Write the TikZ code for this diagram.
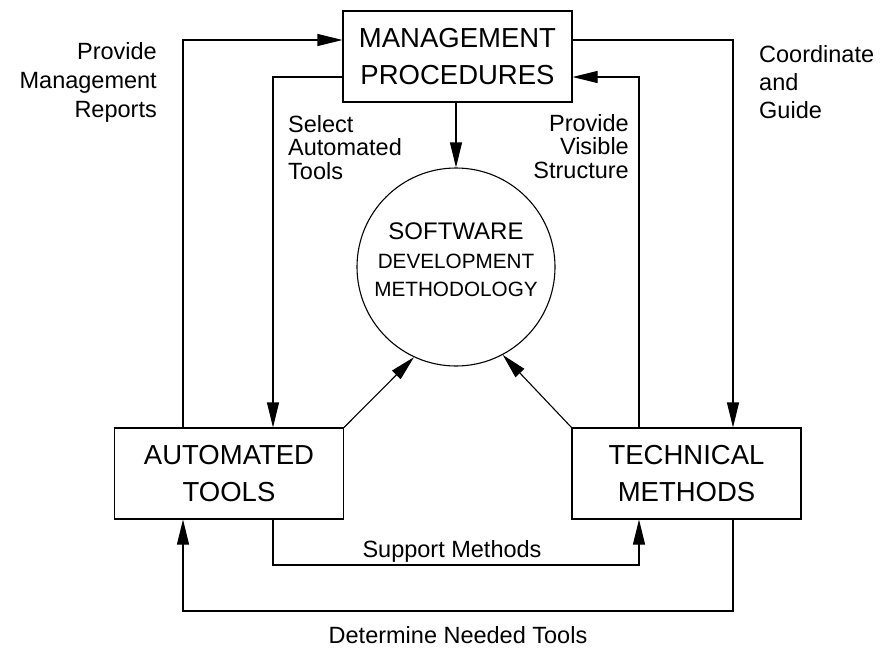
\documentclass[tikz,border=0pt]{standalone}
\usepackage{fontspec}
\setmainfont{Liberation Sans}
\usetikzlibrary{arrows.meta}
\begin{document}
\begin{tikzpicture}[x=1pt,y=-1pt,
  box/.style={draw, line width=1.1pt, minimum width=229pt, minimum height=91pt, align=center, font=\fontsize{27.5}{37}\selectfont, inner sep=0pt},
  conn/.style={line width=1.1pt},
  arr/.style={conn, -{Triangle[length=25pt,width=12pt]}},
  lbl/.style={inner sep=0pt, font=\fontsize{23.5}{29}\selectfont},
]
\useasboundingbox (0,0) rectangle (880,650);

\node[box] (mgmt) at (457.5,56.5) {MANAGEMENT\\PROCEDURES};
\node[box] (auto) at (229,473.5) {AUTOMATED\\TOOLS};
\node[box] (tech) at (686.5,473.5) {TECHNICAL\\METHODS};
\node[draw, circle, line width=1.1pt, minimum size=198pt, inner sep=0pt] (circ) at (456,267) {};
\node[inner sep=0pt, anchor=north, align=center, font=\fontsize{20.7}{28.5}\selectfont] (circtxt) at (456,223)
  {{\fontsize{24}{28.5}\selectfont SOFTWARE}\\DEVELOPMENT\\METHODOLOGY};

\coordinate (pL) at (183,40);
\coordinate (sL) at (273,77);
\coordinate (cR) at (733,40);
\coordinate (vR) at (639,77);
\coordinate (smL) at (273,565);
\coordinate (smR) at (639,565);
\coordinate (dnR) at (733,611);
\coordinate (dnL) at (183,611);

% Provide Management Reports
\draw[arr] (auto.north -| pL) |- (mgmt.west |- pL);
% Select Automated Tools
\draw[arr] (mgmt.west |- sL) -| (auto.north -| sL);
% Coordinate and Guide
\draw[arr] (mgmt.east |- cR) -| (tech.north -| cR);
% Provide Visible Structure
\draw[arr] (tech.north -| vR) |- (mgmt.east |- vR);
% management to methodology
\draw[arr] (circ.north |- mgmt.south) -- (circ.north);
% tools and methods to methodology
\draw[arr] (auto.north east) -- (circ.245);
\draw[arr] (tech.north west) -- (circ.298);
% Support Methods
\draw[arr] (auto.south -| smL) -- (smL) -- (smR) -- (tech.south -| smR);
% Determine Needed Tools
\draw[arr] (tech.south -| dnR) -- (dnR) -- (dnL) -- (auto.south -| dnL);

\node[lbl, anchor=north east, align=right] (pmr) at (157,42) {Provide\\Management\\Reports};
\node[lbl, anchor=north west, align=left, font=\fontsize{23.5}{23.5}\selectfont] (sat) at (288,115) {Select\\Automated\\Tools};
\node[lbl, anchor=north east, align=right, font=\fontsize{23.5}{23.5}\selectfont] (pvs) at (629,114) {Provide\\Visible\\Structure};
\node[lbl, anchor=north west, align=left, font=\fontsize{23.5}{28}\selectfont] (cag) at (759,45) {Coordinate\\and\\Guide};
\node[lbl, anchor=base] (sm) at (452,557) {Support Methods};
\node[lbl, anchor=base] (dnt) at (458,643) {Determine Needed Tools};
\end{tikzpicture}
\end{document}
